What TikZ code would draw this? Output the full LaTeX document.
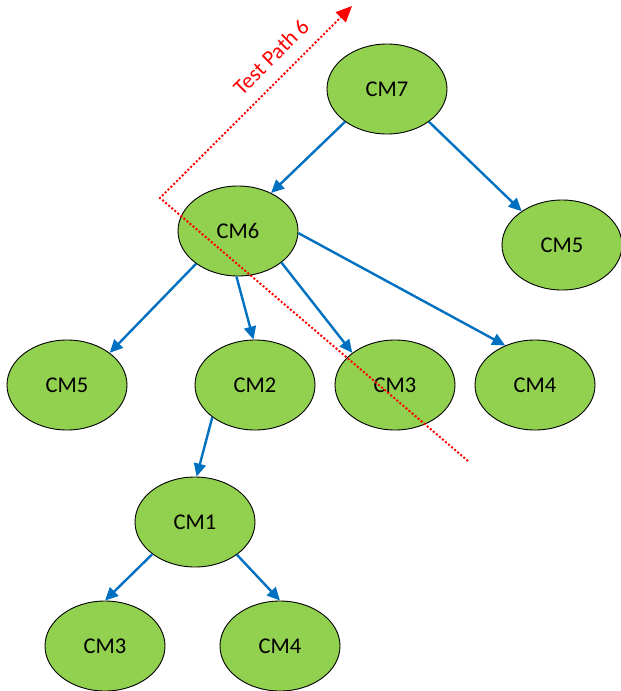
\documentclass[tikz,border=0pt]{standalone}
\usepackage{fontspec}
\setmainfont{Carlito}
\usetikzlibrary{arrows.meta,shapes.geometric}
\definecolor{nodegreen}{RGB}{146,208,80}
\definecolor{edgeblue}{RGB}{0,112,192}
\tikzset{
  cmnode/.style={ellipse, draw=black, line width=0.9pt, fill=nodegreen, minimum width=120pt, minimum height=90pt, inner sep=0pt, font=\fontsize{22.5}{26}\selectfont},
  edgearrow/.style={draw=edgeblue, line width=2.4pt, -{Triangle[length=13pt,width=12pt]}},
  testpath/.style={draw=red, line width=2pt, dash pattern=on 2pt off 2pt, -{Triangle[length=16pt,width=14pt]}}
}
\begin{document}
\begin{tikzpicture}[x=1pt,y=-1pt]
\useasboundingbox (0,0) rectangle (621,691);
\node[cmnode] (cm7) at (387,89) {CM7};
\node[cmnode] (cm6) at (238,231) {CM6};
\node[cmnode] (cm5r) at (562,245) {CM5};
\node[cmnode] (cm5) at (67,385) {CM5};
\node[cmnode] (cm2) at (255,385) {CM2};
\node[cmnode] (cm3) at (395,385) {CM3};
\node[cmnode] (cm4) at (535,385) {CM4};
\node[cmnode] (cm1) at (195,522) {CM1};
\node[cmnode] (cm3b) at (105,646) {CM3};
\node[cmnode] (cm4b) at (280,646) {CM4};
\draw[edgearrow] (cm7.218) -- (cm6.49);
\draw[edgearrow] (cm7.322) -- (cm5r.140);
\draw[edgearrow] (cm6.218) -- (cm5.37);
\draw[edgearrow] (cm6.268) -- (cm2.92);
\draw[edgearrow] (cm6.324) -- (cm3.143);
\draw[edgearrow] (cm6.358) -- (cm4.127);
\draw[edgearrow] (cm2.217) -- (cm1.88);
\draw[edgearrow] (cm1.217) -- (cm3b.90);
\draw[edgearrow] (cm1.322) -- (cm4b.90);
\coordinate (tpEnd) at (468,461);
\coordinate (tpCorner) at (160,198);
\coordinate (tpTip) at (352,6);
\draw[testpath] (tpEnd) -- (tpCorner) -- (tpTip);
\node[text=red, rotate=45, inner sep=0pt, font=\fontsize{22}{26}\selectfont] (tplabel) at (271,57) {Test Path 6};
\end{tikzpicture}
\end{document}
